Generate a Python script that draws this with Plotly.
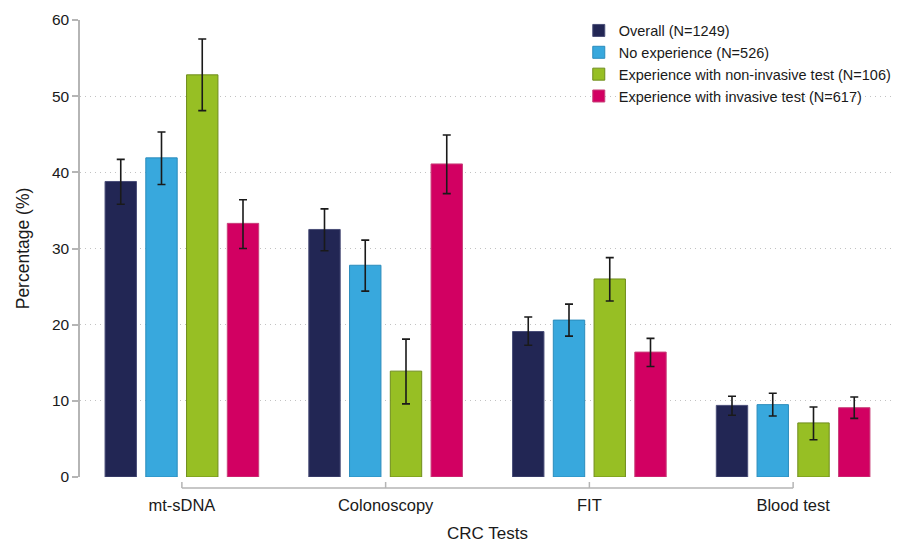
import plotly.graph_objects as go

# CRC test preference by screening experience
tests = ["mt-sDNA", "Colonoscopy", "FIT", "Blood test"]

groups = [
    "Overall (N=1249)",
    "No experience (N=526)",
    "Experience with non-invasive test (N=106)",
    "Experience with invasive test (N=617)",
]

overall = [38.8, 32.5, 19.1, 9.4]
overall_lo = [35.8, 29.7, 17.3, 8.1]
overall_hi = [41.7, 35.2, 21.0, 10.6]

no_exp = [41.9, 27.8, 20.6, 9.5]
no_exp_lo = [38.4, 24.4, 18.5, 8.0]
no_exp_hi = [45.3, 31.1, 22.7, 11.0]

noninv = [52.8, 13.9, 26.0, 7.1]
noninv_lo = [48.1, 9.6, 23.1, 4.9]
noninv_hi = [57.5, 18.1, 28.8, 9.2]

invasive = [33.3, 41.1, 16.4, 9.1]
invasive_lo = [30.0, 37.2, 14.5, 7.7]
invasive_hi = [36.4, 44.9, 18.2, 10.5]

fills = ["#222654", "#38a8dd", "#97bf24", "#d20062"]
edges = ["#4a4e78", "#2b8cbc", "#6f8c1c", "#c8407a"]

series = [
    (overall, overall_lo, overall_hi),
    (no_exp, no_exp_lo, no_exp_hi),
    (noninv, noninv_lo, noninv_hi),
    (invasive, invasive_lo, invasive_hi),
]

FONT = "Liberation Sans, Arial, sans-serif"
INK = "#1a1a1a"
AXIS_GREY = "#b5b5b5"

fig = go.Figure()
for name, (vals, lo, hi), fc, ec in zip(groups, series, fills, edges):
    fig.add_trace(go.Bar(
        x=tests,
        y=vals,
        name=name,
        marker=dict(color=fc, line=dict(color=ec, width=1)),
        error_y=dict(
            type="data",
            symmetric=False,
            array=[h - v for h, v in zip(hi, vals)],
            arrayminus=[v - l for v, l in zip(vals, lo)],
            color=INK,
            thickness=1.6,
            width=4,
        ),
    ))

# bracket-style category axis drawn below the plot area
shapes = [dict(
    type="line", xref="x", yref="paper",
    x0=0, x1=len(tests) - 1,
    ysizemode="pixel", yanchor=0, y0=-11, y1=-11,
    line=dict(color=AXIS_GREY, width=1.5),
)]
for i in range(len(tests)):
    shapes.append(dict(
        type="line", xref="x", yref="paper",
        x0=i, x1=i,
        ysizemode="pixel", yanchor=0, y0=-11, y1=-5,
        line=dict(color=AXIS_GREY, width=1.5),
    ))

fig.update_layout(
    width=909,
    height=543,
    margin=dict(l=80, r=12, t=20, b=66),
    paper_bgcolor="white",
    plot_bgcolor="white",
    font=dict(family=FONT, color=INK, size=14),
    barmode="group",
    bargap=0.2,
    bargroupgap=0.23,
    showlegend=True,
    legend=dict(
        x=0.612, y=1.012, xanchor="left", yanchor="top",
        bgcolor="rgba(255,255,255,0)",
        font=dict(family=FONT, size=14.5, color=INK),
        tracegroupgap=0,
    ),
    shapes=shapes,
    xaxis=dict(
        type="category",
        range=[-0.5, 3.5],
        automargin=False,
        showline=False,
        showgrid=False,
        zeroline=False,
        ticks="",
        ticklabelstandoff=16,
        tickfont=dict(family=FONT, size=16.5, color=INK),
        title=dict(text="CRC Tests", font=dict(family=FONT, size=17, color=INK), standoff=18),
    ),
    yaxis=dict(
        range=[0, 60],
        automargin=False,
        tickvals=[0, 10, 20, 30, 40, 50, 60],
        showline=True,
        linecolor=AXIS_GREY,
        linewidth=1.5,
        ticks="outside",
        ticklen=6,
        tickcolor=AXIS_GREY,
        tickwidth=1.5,
        showgrid=True,
        gridcolor="#c2c2c2",
        griddash="1px,4px",
        gridwidth=1,
        zeroline=False,
        tickfont=dict(family=FONT, size=15.5, color=INK),
        title=dict(text="Percentage (%)", font=dict(family=FONT, size=17.5, color=INK), standoff=18),
    ),
)

fig.write_html("out.html")
